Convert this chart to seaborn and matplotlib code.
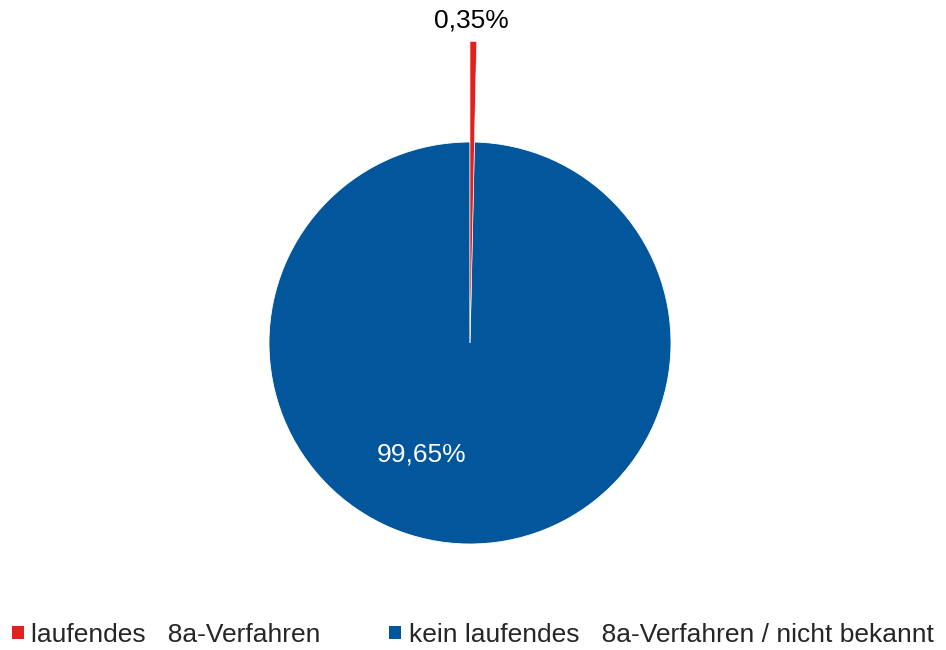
import matplotlib
matplotlib.use("Agg")
import matplotlib.pyplot as plt
import seaborn as sns
from matplotlib.patches import Patch

categories = ["laufendes   8a-Verfahren", "kein laufendes   8a-Verfahren / nicht bekannt"]
values = [0.35, 99.65]
value_labels = ["0,35%", "99,65%"]
colors = ["#E2201C", "#02569B"]

sns.set_theme(style="white")
plt.rcParams['font.family'] = ['Liberation Sans', 'DejaVu Sans']

W, H = 946, 650
fig = plt.figure(figsize=(W / 100, H / 100), dpi=100)
ax = fig.add_axes([0, 0, 1, 1])

R = 201.0
cx, cy = 470.0, 650 - 343.0
FS = 19

wedges, _ = ax.pie(values, colors=colors, radius=1.0, startangle=90, counterclock=False,
                   wedgeprops=dict(edgecolor="white", linewidth=0.6))
# red slice drawn larger (pulled-out slice in the reference)
big, _ = ax.pie(values, colors=[colors[0], "none"], radius=1.5, startangle=90, counterclock=False,
                wedgeprops=dict(edgecolor="white", linewidth=0.4))
big[1].set_visible(False)

ax.set_xlim(-cx / R, (W - cx) / R)
ax.set_ylim(-cy / R, (H - cy) / R)
ax.set_aspect("auto")
ax.axis("off")

ax.text((471 - cx) / R, (650 - 21 - cy) / R, value_labels[0], ha="center", va="center",
        fontsize=FS, color="black")
ax.text((422 - cx) / R, (650 - 455 - cy) / R, value_labels[1], ha="center", va="center",
        fontsize=FS, color="white")

handles = [Patch(facecolor=c, edgecolor="none") for c in colors]
fig.legend(handles, categories, loc="center left", bbox_to_anchor=(12 / W, 15 / H), ncol=2,
           frameon=False, fontsize=FS, handlelength=0.46, handleheight=0.33,
           handletextpad=0.27, columnspacing=2.6, borderpad=0, borderaxespad=0)

fig.savefig("out.png", dpi=100)
